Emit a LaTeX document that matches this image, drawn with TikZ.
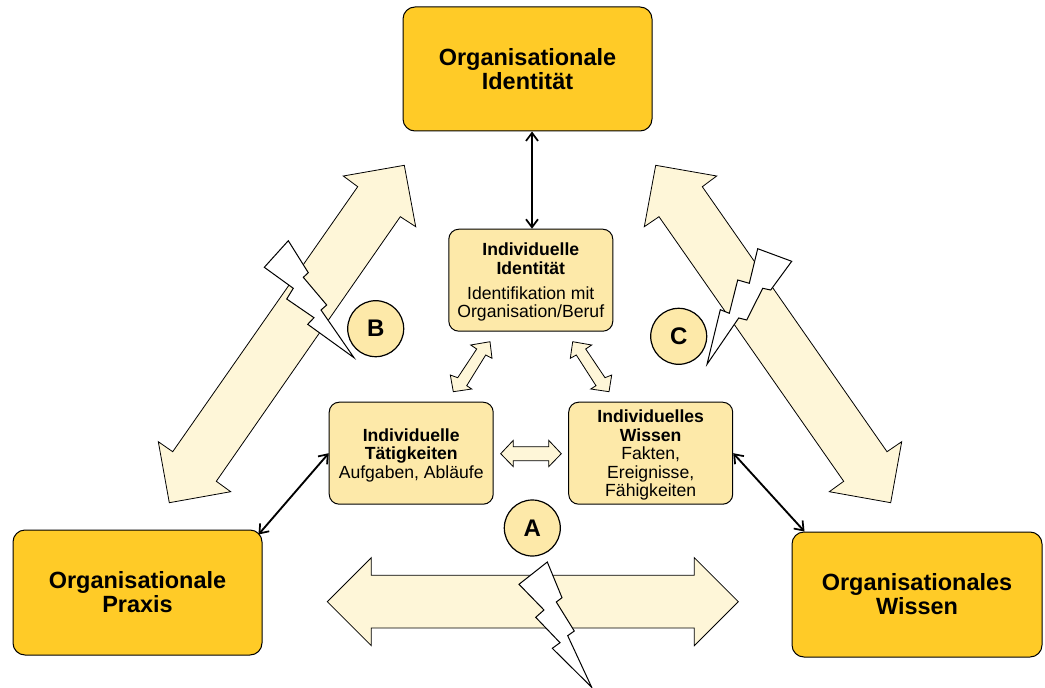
\documentclass[tikz,border=0pt]{standalone}
\usepackage{fontspec}
\setmainfont{Liberation Sans}
\usetikzlibrary{arrows.meta,calc}
\definecolor{orgfill}{HTML}{FFCB27}
\definecolor{indfill}{HTML}{FDE9A9}
\definecolor{arrfill}{HTML}{FEF6D8}
\newcommand{\dropa}{\rule{0pt}{12.6pt}}
\tikzset{
  x=0.75pt,y=-0.75pt,
  orgbox/.style={draw=black,line width=0.75pt,fill=orgfill,rounded corners=9pt,align=center,
    font=\fontsize{17.6}{18}\selectfont\bfseries,inner sep=0pt},
  indbox/.style={draw=black,line width=0.75pt,fill=indfill,rounded corners=7.5pt,align=center,
    font=\fontsize{13.2}{13.9}\selectfont,inner sep=0pt},
  mark circle/.style={draw=black,line width=0.9pt,fill=indfill,circle,inner sep=0pt,minimum size=42pt,
    font=\fontsize{18}{20}\selectfont\bfseries},
  blockarrow/.style={draw=black,line width=0.6pt,fill=arrfill,line join=miter},
  bolt/.style={draw=black,line width=0.75pt,fill=white,line join=miter,miter limit=10},
  link/.style={draw=black,line width=1.4pt,{Straight Barb[length=6pt,width=9pt,line width=1.3pt]}-{Straight Barb[length=6pt,width=9pt,line width=1.3pt]}}
}
\begin{document}
\begin{tikzpicture}
\useasboundingbox (0,0) rectangle (1045,688);
% block arrows
\draw[blockarrow] (404.3,165.3)--(415.7,226.7)--(400.3,216.7)--(216.3,481.3)--(230.7,491.7)--(169.3,502.7)--(158.3,441.7)--(172.7,451.7)--(357.7,186.7)--(343.3,176)--cycle;
\draw[blockarrow] (655.7,165.3)--(716.7,176)--(702.3,186.7)--(887,451.7)--(901.7,441.7)--(890.7,502.7)--(829.3,491.7)--(843.7,481.3)--(659,216.7)--(644.3,226.7)--cycle;
\draw[blockarrow] (327.3,601.7)--(371.3,557.7)--(371.3,575.3)--(694.3,575.3)--(694.3,557.7)--(738.3,601.7)--(694.3,645.7)--(694.3,628)--(371.3,628)--(371.3,645.7)--cycle;
\draw[blockarrow] (490,341.7)--(492,358.3)--(485.7,355)--(466.7,385.7)--(471.7,389)--(453.3,391.7)--(450.3,375)--(457.7,377.7)--(476.7,349)--(470.7,345)--cycle;
\draw[blockarrow] (572.7,341.7)--(591.7,345)--(585.7,349)--(605,377.7)--(611.7,375)--(609,391.7)--(590.7,389)--(596,385.7)--(576.3,355)--(570.3,358.3)--cycle;
\draw[blockarrow] (500.7,453.7)--(513.3,440.3)--(513.3,446.7)--(548.7,446.7)--(548.7,440.3)--(561.3,453.7)--(548.7,466.7)--(548.7,460.7)--(513.3,460.7)--(513.3,466.7)--cycle;
% lightning
\draw[bolt] (288.3,240.7)--(308.3,272.7)--(303.3,277.3)--(326.7,305)--(321,310)--(354,357.7)--(307.7,324.3)--(314,317.7)--(286.7,299)--(293.3,288.3)--(264.3,267.3)--cycle;
\draw[bolt] (757.7,248.7)--(791.7,261.3)--(770.7,290)--(762.7,288.3)--(746.7,320)--(738.7,318)--(707,364.3)--(720.3,309.7)--(729.3,313.3)--(737.7,280)--(749.3,283.3)--cycle;
\draw[bolt] (547.3,562)--(562,597.7)--(556.3,602)--(574.3,631)--(567.7,635.7)--(591.7,687.3)--(552.3,648.3)--(560,642.7)--(535.7,617.3)--(544,610)--(519,584.3)--cycle;
% organisational boxes
\node[orgbox,minimum width=186.75pt,minimum height=93pt] (oid) at (527.5,69) {Organisationale\\Identität};
\node[orgbox,minimum width=186.75pt,minimum height=93.75pt] (opr) at (137.5,592.5) {Organisationale\\Praxis};
\node[orgbox,minimum width=187.5pt,minimum height=93.75pt] (owi) at (917,594.5) {Organisationales\\Wissen};
% individual boxes
\node[indbox,minimum width=123pt,minimum height=76.5pt] (iid) at (530.8,280.2) {\dropa\textbf{Individuelle}\\\textbf{Identität}\\[4.8pt]Identifikation mit\\Organisation/Beruf};
\node[indbox,minimum width=123pt,minimum height=76.5pt] (ita) at (411.2,453.2) {\dropa\textbf{Individuelle}\\\textbf{Tätigkeiten}\\Aufgaben, Abläufe};
\node[indbox,minimum width=123pt,minimum height=76.5pt] (iwi) at (650.7,453.2) {\dropa\textbf{Individuelles}\\\textbf{Wissen}\\Fakten,\\Ereignisse,\\Fähigkeiten};
% circles
\node[mark circle] (ca) at (532.3,528) {A};
\node[mark circle] (cb) at (375.7,328.7) {B};
\node[mark circle] (cc) at (678.7,336.3) {C};
% links
\draw[link] ([xshift=0.9pt]iid.north |- oid.south) -- ([xshift=0.9pt]iid.north);
\draw[link] ([shift={(-4,5)}]opr.north east) -- (ita.west);
\draw[link] ([xshift=9.75pt]owi.north west) -- (iwi.east);
\end{tikzpicture}
\end{document}
